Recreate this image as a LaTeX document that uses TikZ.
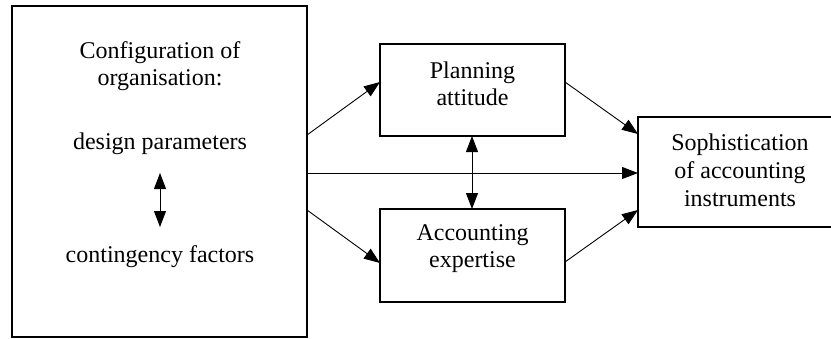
\documentclass[tikz,border=0pt]{standalone}
\usepackage{fontspec}
\setmainfont{Liberation Serif}
\usetikzlibrary{arrows.meta}
\tikzset{
  box/.style={draw=black, line width=1.8pt, inner sep=0pt, align=center},
  txt/.style={align=center, inner sep=0pt, font=\fontsize{24pt}{27pt}\selectfont},
  arr/.style={line width=0.9pt, -{Triangle[length=16pt,width=12pt]}},
  darr/.style={line width=0.9pt, {Triangle[length=16pt,width=12pt]}-{Triangle[length=16pt,width=12pt]}}
}
\begin{document}
\begin{tikzpicture}[x=1pt,y=-1pt]
\useasboundingbox (0,0) rectangle (831,338);
\clip (0,0) rectangle (831,338);
% boxes
\node[box, minimum width=295pt, minimum height=331pt] (big) at (159.5,171.5) {};
\node[box, minimum width=185pt, minimum height=92pt] (plan) at (472.5,90) {};
\node[txt] (planT) at (472.5,84) {Planning\\attitude};
\node[box, minimum width=185pt, minimum height=93pt] (acc) at (472.5,255.5) {};
\node[txt] (accT) at (472.5,249) {Accounting\\expertise};
\draw[line width=1.8pt] (900,117) -- (638,117) -- (638,227) -- (900,227);
\node[txt, font=\fontsize{24pt}{28pt}\selectfont] (soph) at (740,170) {Sophistication\\of accounting\\instruments};
% texts in big box
\node[txt] (conf) at (160,66) {Configuration of\\organisation:};
\node[txt] (dp) at (160,144) {design parameters};
\node[txt] (cf) at (160,257) {contingency factors};
% connector end points
\coordinate (dpb) at (160,173);
\coordinate (cft) at (160,227);
\coordinate (b1) at (307,135);
\coordinate (b2) at (307,173);
\coordinate (b3) at (307,210);
\coordinate (p1) at (380,82);
\coordinate (p2) at (565,82);
\coordinate (p3) at (472,136);
\coordinate (a1) at (380,263);
\coordinate (a2) at (565,262);
\coordinate (a3) at (472,209);
\coordinate (s1) at (638,134);
\coordinate (s2) at (638,173);
\coordinate (s3) at (638,210);
% connectors
\draw[darr] (dpb) -- (cft);
\draw[arr] (b1) -- (p1);
\draw[arr] (b2) -- (s2);
\draw[arr] (b3) -- (a1);
\draw[arr] (p2) -- (s1);
\draw[arr] (a2) -- (s3);
\draw[darr] (p3) -- (a3);
\end{tikzpicture}
\end{document}
